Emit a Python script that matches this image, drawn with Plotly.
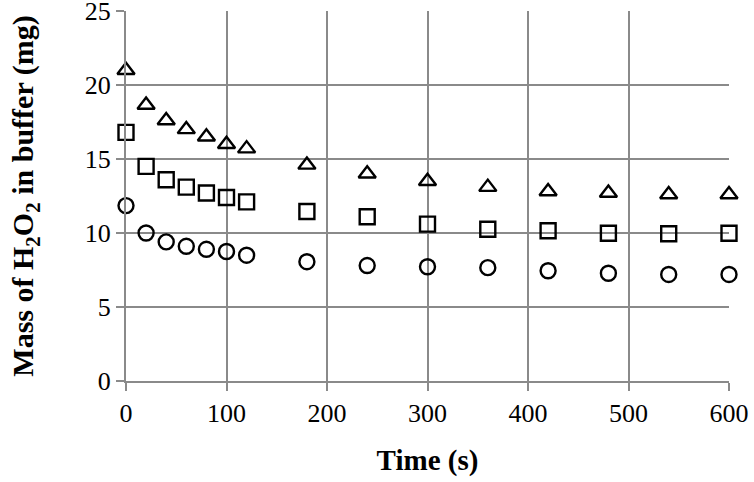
import plotly.graph_objects as go

# tempos (s)
tempo = [0, 20, 40, 60, 80, 100, 120, 180, 240, 300, 360, 420, 480, 540, 600]

# massa de H2O2 no tampão (mg)
triangulos = [21.0, 18.65, 17.6, 17.0, 16.5, 16.0, 15.7, 14.6, 14.0, 13.5, 13.1, 12.8, 12.7, 12.6, 12.6]
quadrados = [16.8, 14.5, 13.6, 13.1, 12.7, 12.4, 12.1, 11.45, 11.1, 10.6, 10.25, 10.15, 9.98, 9.95, 9.98]
circulos = [11.85, 10.0, 9.4, 9.1, 8.9, 8.75, 8.5, 8.06, 7.8, 7.72, 7.66, 7.45, 7.28, 7.2, 7.2]

fonte = "Liberation Serif, Times New Roman, serif"
cinza = "#8a8a8a"

fig = go.Figure()

series = [
    (triangulos, "triangle-up-open", 15),
    (quadrados, "square-open", 15),
    (circulos, "circle-open", 15),
]

for valores, simbolo, tam in series:
    fig.add_trace(go.Scatter(
        x=tempo,
        y=valores,
        mode="markers",
        marker=dict(symbol=simbolo, size=tam, color="black",
                    line=dict(color="black", width=2.4)),
        showlegend=False,
        cliponaxis=False
    ))

fig.update_layout(
    width=754,
    height=482,
    plot_bgcolor="white",
    paper_bgcolor="white",
    font=dict(family=fonte, size=26, color="black"),
    margin=dict(l=126, r=25, t=11, b=101)
)

fig.update_xaxes(
    range=[0, 600],
    tickvals=[0, 100, 200, 300, 400, 500, 600],
    automargin=False,
    showgrid=True,
    gridcolor=cinza,
    gridwidth=2,
    showline=True,
    linecolor=cinza,
    linewidth=2,
    ticks="outside",
    ticklen=8,
    tickwidth=2,
    tickcolor=cinza,
    zeroline=False,
    ticklabeloverflow="allow",
    title=dict(text="<b>Time (s)</b>", font=dict(family=fonte, size=29), standoff=22)
)

fig.update_yaxes(
    range=[0, 25],
    tickvals=[0, 5, 10, 15, 20, 25],
    automargin=False,
    showgrid=True,
    gridcolor=cinza,
    gridwidth=2,
    showline=True,
    linecolor=cinza,
    linewidth=2,
    ticks="outside",
    ticklen=8,
    tickwidth=2,
    tickcolor=cinza,
    zeroline=False,
    ticklabeloverflow="allow",
    title=dict(text="<b>Mass of H<sub>2</sub>O<sub>2</sub> in buffer (mg)</b>",
               font=dict(family=fonte, size=30), standoff=42)
)

# tirar a margem padrão do body para o gráfico ocupar a janela toda
fig.write_html(
    "out.html",
    config={"displayModeBar": False},
    post_script="document.body.style.margin='0';"
)
